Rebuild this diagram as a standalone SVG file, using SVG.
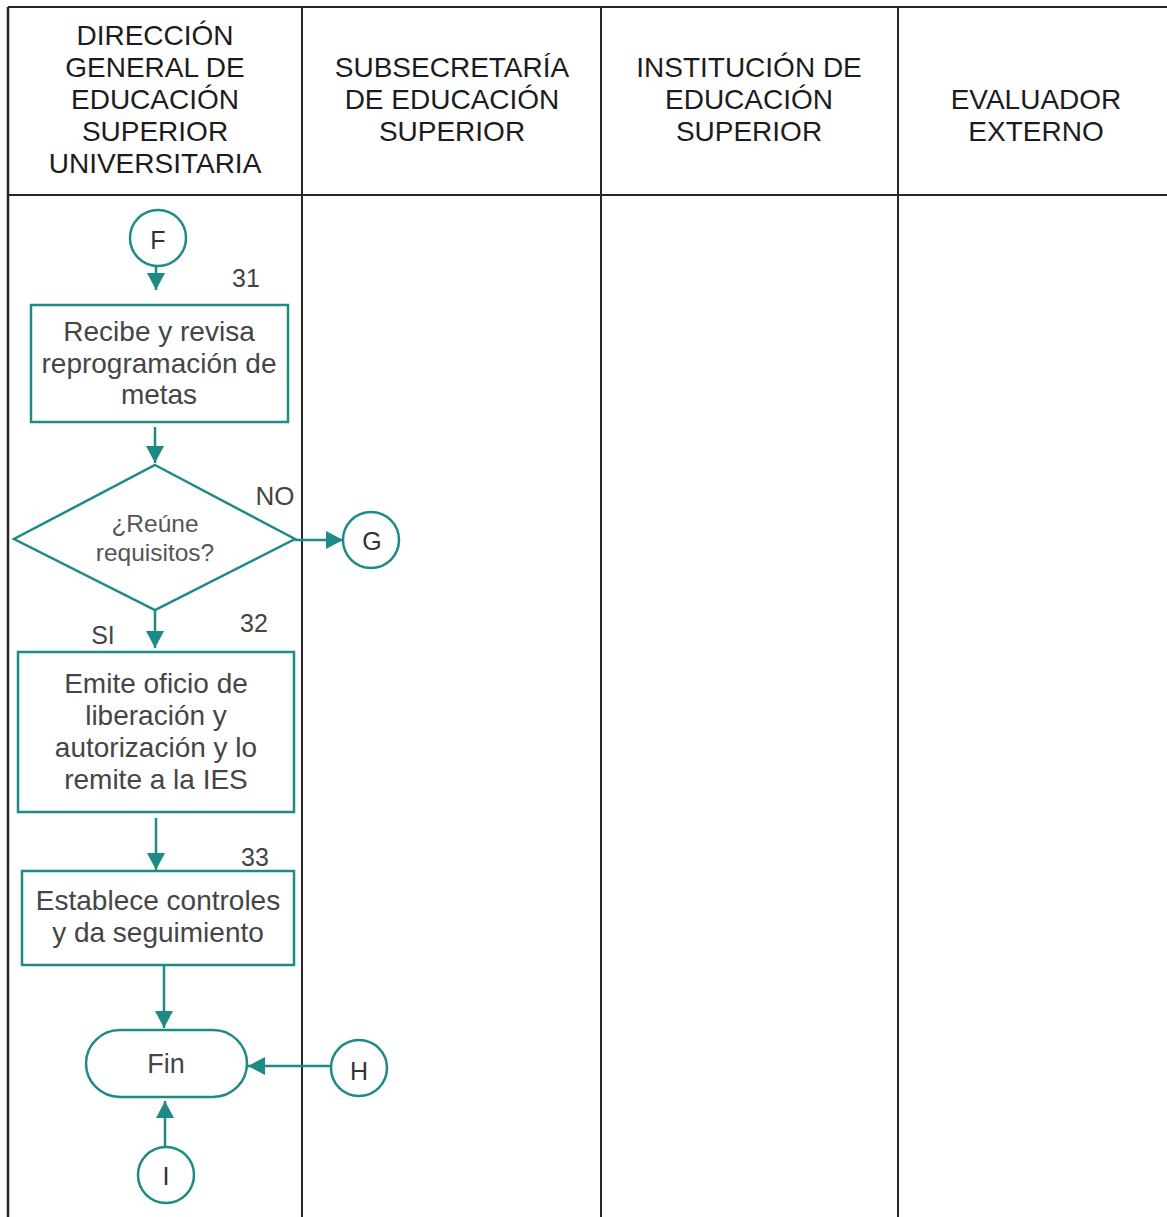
<svg xmlns="http://www.w3.org/2000/svg" width="1167" height="1217" viewBox="0 0 1167 1217">
<defs>
<style>
.grid{stroke:#262626;stroke-width:2;fill:none}
.hdr{font-family:"Liberation Sans",Arial,sans-serif;font-size:28px;fill:#1c1c1c;text-anchor:middle}
.shape{fill:#fff;stroke:#1e8a86;stroke-width:2.5}
.txt{font-family:"Liberation Sans",Arial,sans-serif;font-size:28px;fill:#454545;text-anchor:middle}
.dtxt{font-family:"Liberation Sans",Arial,sans-serif;font-size:24.5px;fill:#555;text-anchor:middle}
.lbl{font-family:"Liberation Sans",Arial,sans-serif;font-size:25px;fill:#444;text-anchor:middle}
.ctxt{font-family:"Liberation Sans",Arial,sans-serif;font-size:25px;fill:#333;text-anchor:middle}
.conn{stroke:#1e8a86;stroke-width:2.5;fill:none}
</style>
<marker id="arr" markerUnits="userSpaceOnUse" markerWidth="18" markerHeight="18" viewBox="0 0 18 18" refX="17" refY="9" orient="auto">
<path d="M0,0 L17,9 L0,18 Z" fill="#1e8a86"/>
</marker>
</defs>
<rect width="1167" height="1217" fill="#fff"/>
<g id="lanes">
<line class="grid" x1="8" y1="7" x2="1167" y2="7"/>
<line class="grid" x1="8" y1="195" x2="1167" y2="195"/>
<line class="grid" x1="8" y1="7" x2="8" y2="1217" style="stroke-width:2.5"/>
<line class="grid" x1="302" y1="7" x2="302" y2="1217"/>
<line class="grid" x1="601" y1="7" x2="601" y2="1217"/>
<line class="grid" x1="898" y1="7" x2="898" y2="1217"/>
<text class="hdr"><tspan x="155" y="45">DIRECCIÓN</tspan><tspan x="155" y="77">GENERAL DE</tspan><tspan x="155" y="109">EDUCACIÓN</tspan><tspan x="155" y="141">SUPERIOR</tspan><tspan x="155" y="173">UNIVERSITARIA</tspan></text>
<text class="hdr"><tspan x="452" y="77">SUBSECRETARÍA</tspan><tspan x="452" y="109">DE EDUCACIÓN</tspan><tspan x="452" y="141">SUPERIOR</tspan></text>
<text class="hdr"><tspan x="749" y="77">INSTITUCIÓN DE</tspan><tspan x="749" y="109">EDUCACIÓN</tspan><tspan x="749" y="141">SUPERIOR</tspan></text>
<text class="hdr"><tspan x="1036" y="109">EVALUADOR</tspan><tspan x="1036" y="141">EXTERNO</tspan></text>
</g>
<g id="connectors">
<line class="conn" x1="156" y1="266" x2="156" y2="290" marker-end="url(#arr)"/>
<line class="conn" x1="155" y1="427" x2="155" y2="463" marker-end="url(#arr)"/>
<line class="conn" x1="295" y1="540" x2="343" y2="540" marker-end="url(#arr)"/>
<line class="conn" x1="155" y1="610" x2="155" y2="648" marker-end="url(#arr)"/>
<line class="conn" x1="156" y1="818" x2="156" y2="870" marker-end="url(#arr)"/>
<line class="conn" x1="164" y1="966" x2="164" y2="1028" marker-end="url(#arr)"/>
<line class="conn" x1="331" y1="1066" x2="248" y2="1066" marker-end="url(#arr)"/>
<line class="conn" x1="165" y1="1147" x2="165" y2="1101" marker-end="url(#arr)"/>
<text class="lbl" x="275" y="505" style="font-size:26px">NO</text>
<text class="lbl" x="103" y="644">SI</text>
</g>
<g id="connF">
<circle class="shape" cx="158" cy="238" r="28"/>
<text class="ctxt" x="158" y="249">F</text>
</g>
<g id="step31">
<text class="lbl" x="246" y="287">31</text>
<rect class="shape" x="31" y="305" width="257" height="117"/>
<text class="txt"><tspan x="159" y="341">Recibe y revisa</tspan><tspan x="159" y="373">reprogramación de</tspan><tspan x="159" y="404">metas</tspan></text>
</g>
<g id="decision">
<polygon class="shape" points="155,465 295,539 155,610 14,539"/>
<text class="dtxt"><tspan x="155" y="532">¿Reúne</tspan><tspan x="155" y="561">requisitos?</tspan></text>
</g>
<g id="connG">
<circle class="shape" cx="371" cy="540" r="28"/>
<text class="ctxt" x="372" y="550">G</text>
</g>
<g id="step32">
<text class="lbl" x="254" y="632">32</text>
<rect class="shape" x="18" y="652" width="276" height="160"/>
<text class="txt"><tspan x="156" y="693">Emite oficio de</tspan><tspan x="156" y="725">liberación y</tspan><tspan x="156" y="757">autorización y lo</tspan><tspan x="156" y="789">remite a la IES</tspan></text>
</g>
<g id="step33">
<text class="lbl" x="255" y="866">33</text>
<rect class="shape" x="22" y="871" width="272" height="94"/>
<text class="txt"><tspan x="158" y="910">Establece controles</tspan><tspan x="158" y="942">y da seguimiento</tspan></text>
</g>
<g id="fin">
<rect class="shape" x="86" y="1030" width="161" height="67" rx="34" ry="34"/>
<text class="txt" x="166" y="1073" style="font-size:27px">Fin</text>
</g>
<g id="connH">
<circle class="shape" cx="359" cy="1068" r="28"/>
<text class="ctxt" x="359" y="1080">H</text>
</g>
<g id="connI">
<circle class="shape" cx="166" cy="1175" r="28"/>
<text class="ctxt" x="166" y="1185">I</text>
</g>
</svg>
